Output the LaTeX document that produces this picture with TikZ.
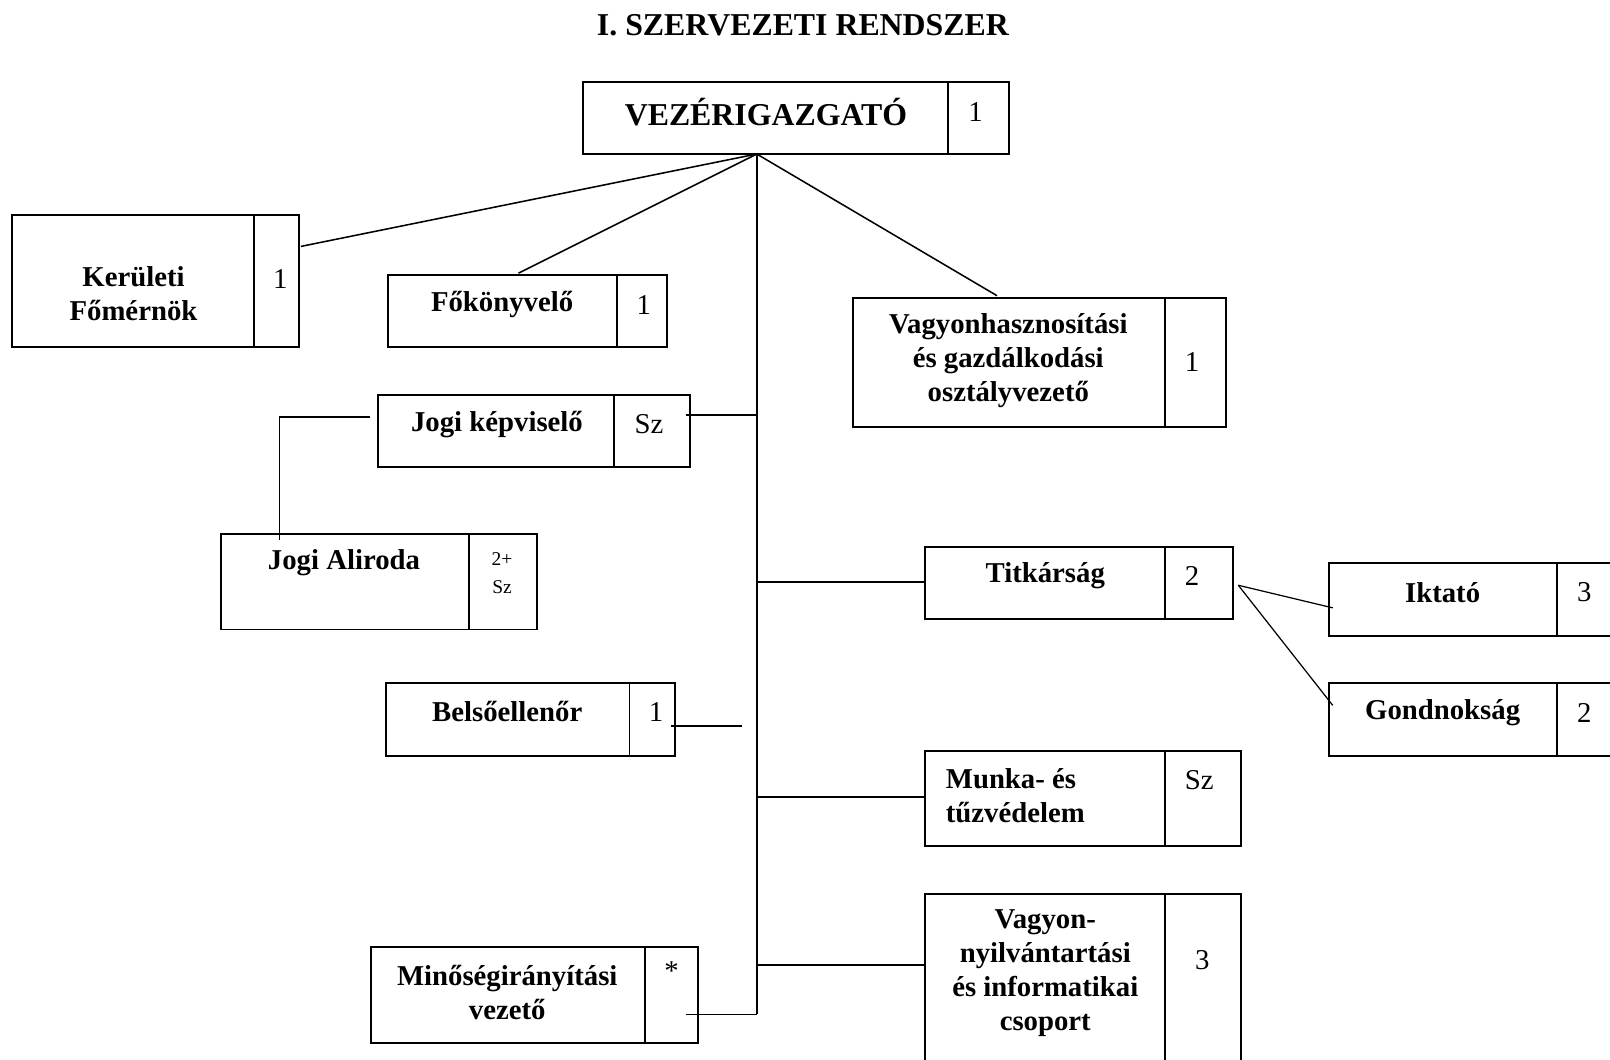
\documentclass[tikz,border=0pt]{standalone}
\usepackage{fontspec}
\setmainfont{Liberation Serif}
\usetikzlibrary{calc}
\tikzset{
  cell/.style={draw, line width=1.8pt, inner sep=0pt, outer sep=0pt, anchor=north west},
  conn/.style={line width=1.5pt},
  thinconn/.style={line width=1.2pt},
  lbl/.style={font=\bfseries\fontsize{28}{33}\selectfont, align=center, inner sep=0pt},
  lbll/.style={font=\bfseries\fontsize{28}{33}\selectfont, align=left, inner sep=0pt},
  num/.style={font=\fontsize{28}{33}\selectfont, inner sep=0pt},
  smallnum/.style={font=\fontsize{19}{27}\selectfont, align=center, inner sep=0pt},
  big/.style={font=\bfseries\fontsize{31}{36}\selectfont, inner sep=0pt}
}
% name, x1, y1, xdiv, x2, y2
\newcommand\orgbox[6]{%
  \node[cell, minimum width={#4-#2}, minimum height={#6-#3}] (#1) at (#2,#3) {};
  \node[cell, minimum width={#5-#4}, minimum height={#6-#3}] (#1n) at (#4,#3) {};
}
\begin{document}
\begin{tikzpicture}[x=1pt,y=-1pt]
  \clip (0,0) rectangle (1568,1032);
  \fill[white] (0,0) rectangle (1568,1032);

  % title
  \node[big] (title) at (782,25) {I. SZERVEZETI RENDSZER};

  % boxes
  \orgbox{vez}{568}{80}{923}{983}{150}
  \orgbox{kf}{12}{209}{247}{291}{338}
  \orgbox{fk}{378}{268}{601}{650}{338}
  \orgbox{vh}{831}{290}{1135}{1194}{416}
  \orgbox{jk}{368}{385}{598}{672}{455}
  \orgbox{ja}{215}{520}{457}{523}{613}
  \orgbox{tk}{901}{533}{1135}{1201}{603}
  \orgbox{ik}{1294}{548}{1516}{1580}{619}
  \orgbox{gd}{1294}{665}{1516}{1580}{736}
  \orgbox{be}{376}{665}{613}{657}{736}
  \orgbox{mt}{901}{731}{1135}{1209}{824}
  \orgbox{vn}{901}{871}{1135}{1209}{1050}
  \orgbox{mi}{361}{922}{628}{680}{1016}

  % texts
  \node[big] (t-vez) at (746,109) {VEZÉRIGAZGATÓ};
  \node[num] (n-vez) at (950,109) {1};
  \node[lbl] (t-kf) at (130,286) {Kerületi\\Főmérnök};
  \node[num] (n-kf) at (273,272) {1};
  \node[lbl] (t-fk) at (489,297) {Főkönyvelő};
  \node[num] (n-fk) at (627,297) {1};
  \node[lbl] (t-vh) at (982,351) {Vagyonhasznosítási\\és gazdálkodási\\osztályvezető};
  \node[num] (n-vh) at (1161,353) {1};
  \node[lbl] (t-jk) at (484,413) {Jogi képviselő};
  \node[num] (n-jk) at (632,413) {Sz};
  \node[lbl] (t-ja) at (335,548) {Jogi Aliroda};
  \node[smallnum] (n-ja) at (489,558) {2+\\Sz};
  \node[lbl] (t-tk) at (1018,561) {Titkárság};
  \node[num] (n-tk) at (1161,561) {2};
  \node[lbl] (t-ik) at (1405,577) {Iktató};
  \node[num] (n-ik) at (1543,577) {3};
  \node[lbl] (t-gd) at (1405,694) {Gondnokság};
  \node[num] (n-gd) at (1543,694) {2};
  \node[lbl] (t-be) at (494,693) {Belsőellenőr};
  \node[num] (n-be) at (639,693) {1};
  \node[lbll, anchor=west] (t-mt) at (921,775) {Munka- és\\tűzvédelem};
  \node[num] (n-mt) at (1168,760) {Sz};
  \node[lbl] (t-vn) at (1018,948) {Vagyon-\\nyilvántartási\\és informatikai\\csoport};
  \node[num] (n-vn) at (1171,935) {3};
  \node[lbl] (t-mi) at (494,967) {Minőségirányítási\\vezető};
  \node[num] (n-mi) at (654,946) {*};

  % connector points
  \coordinate (top) at (737,150);
  \coordinate (trunkend) at (737,988);
  \coordinate (kfend) at ($(kfn.north east)+(2,31)$);
  \coordinate (fkend) at (505,266);
  \coordinate (vhend) at (971,288);
  \coordinate (jkstart) at (668,404);
  \coordinate (jkj) at (737,404);
  \coordinate (jkleft) at (360,406);
  \coordinate (jacorner) at (272,406);
  \coordinate (jaend) at (272,526);
  \coordinate (tkj) at (737,567);
  \coordinate (tkfan) at (1206,570);
  \coordinate (ikend) at (1298,592);
  \coordinate (gdend) at (1298,687);
  \coordinate (bestart) at (653,707);
  \coordinate (beend) at (723,707);
  \coordinate (mtj) at (737,776);
  \coordinate (vnj) at (737,940);
  \coordinate (mistart) at (668,988);

  % connectors
  \draw[conn] (top) -- (kfend);
  \draw[conn] (top) -- (fkend);
  \draw[conn] (top) -- (vhend);
  \draw[conn] (top) -- (trunkend);
  \draw[conn] (jkstart) -- (jkj);
  \draw[conn] (jkleft) -- (jacorner) -- (jaend);
  \draw[conn] (tkj) -- (tk.west |- tkj);
  \draw[thinconn] (tkfan) -- (ikend);
  \draw[thinconn] (tkfan) -- (gdend);
  \draw[conn] (bestart) -- (beend);
  \draw[conn] (mtj) -- (mt.west |- mtj);
  \draw[conn] (vnj) -- (vn.west |- vnj);
  \draw[conn] (mistart) -- (trunkend);
\end{tikzpicture}
\end{document}
